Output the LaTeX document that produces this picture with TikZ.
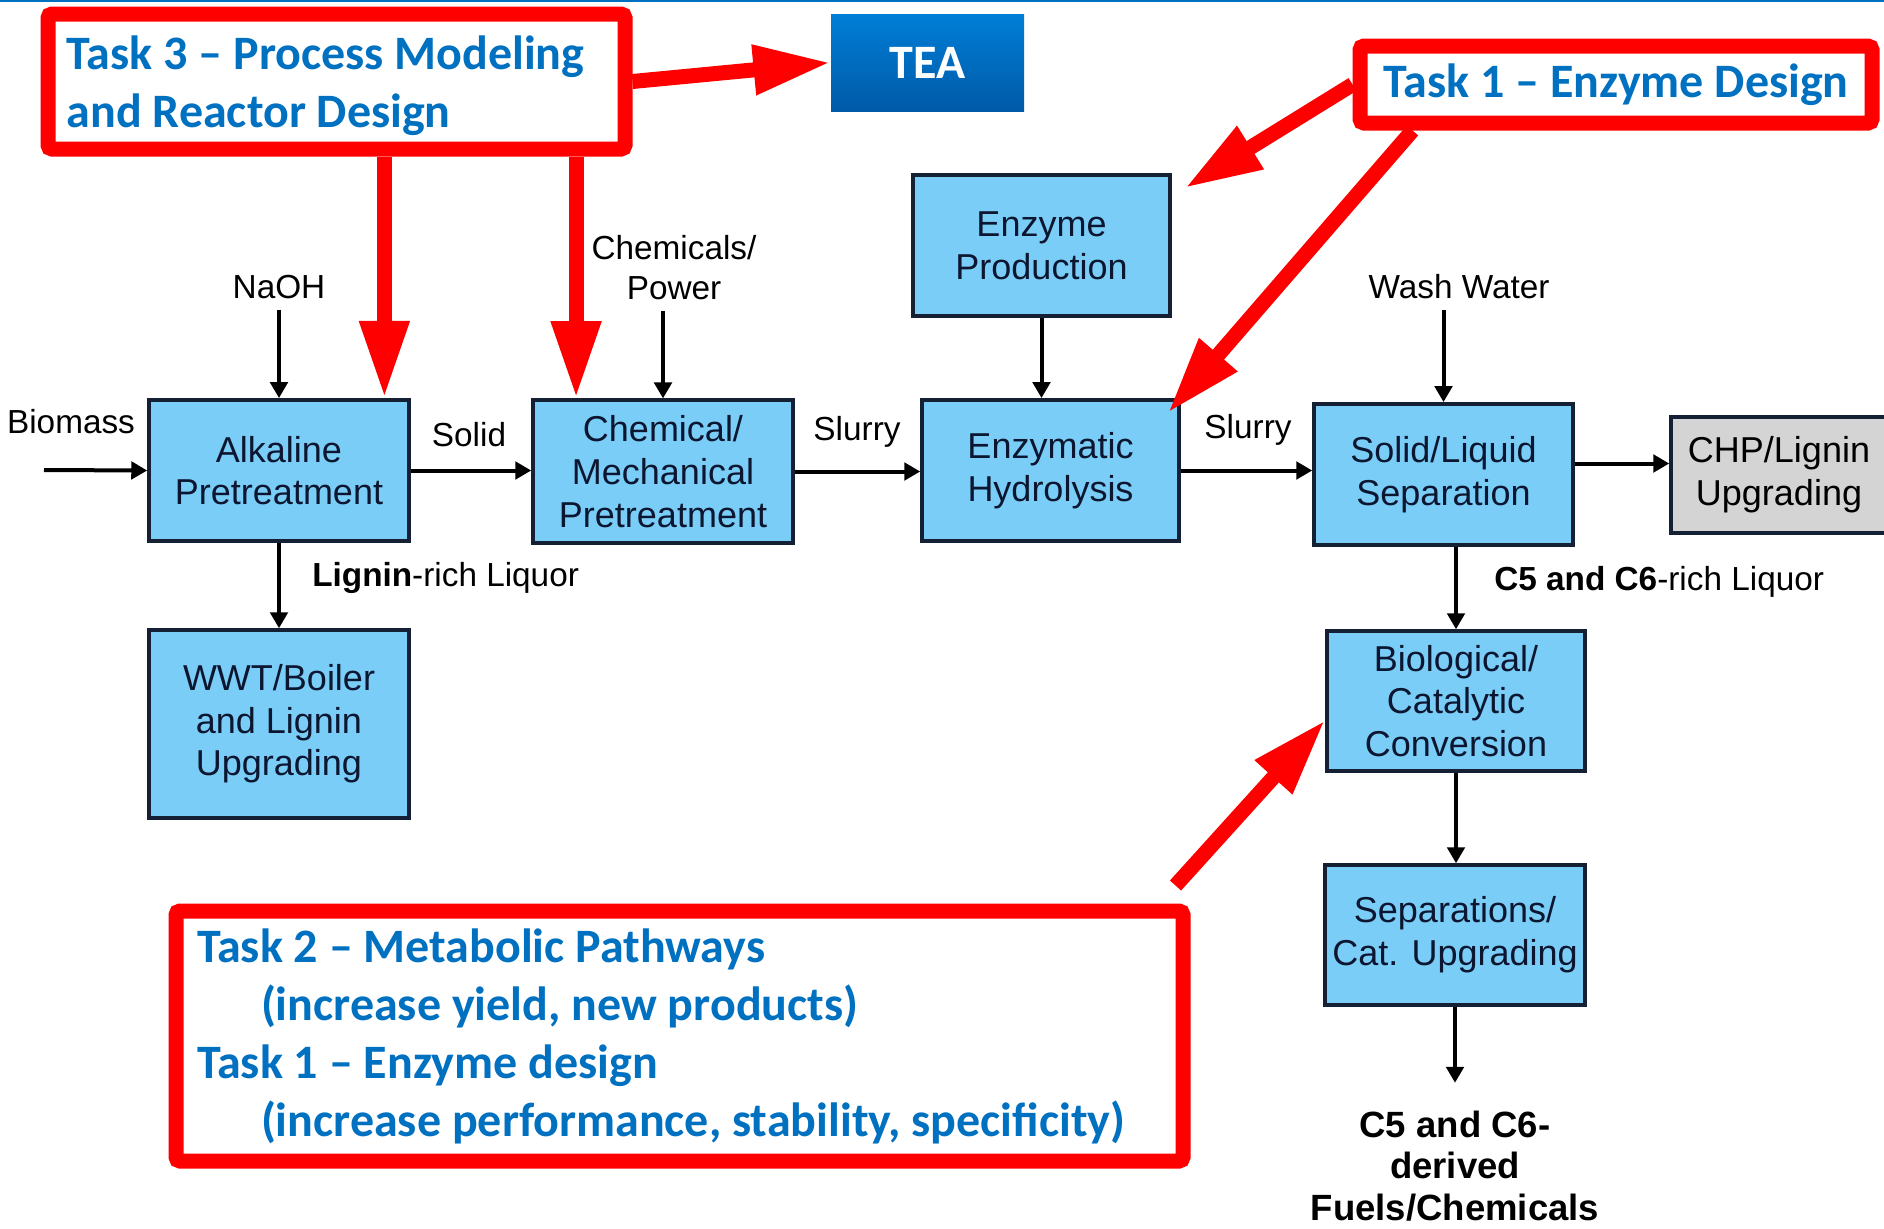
\documentclass[tikz,border=0pt]{standalone}
\usepackage{fontspec}
\setmainfont{Liberation Sans}
\newfontfamily\taskfont{Carlito}
\usepackage{tikz}
\usetikzlibrary{arrows.meta,calc}
\definecolor{boxblue}{RGB}{122,205,246}
\definecolor{boxline}{RGB}{22,32,52}
\definecolor{boxtext}{RGB}{12,22,48}
\definecolor{taskblue}{RGB}{0,112,192}
\definecolor{taskred}{RGB}{255,0,0}
\definecolor{chpgrey}{RGB}{212,212,212}

\begin{document}
\begin{tikzpicture}[x=0.75pt,y=0.75pt,yscale=-1,xscale=1,
  procbox/.style={draw=boxline,line width=2.6pt,fill=boxblue,text=boxtext,align=center,inner sep=0pt,
    minimum width=195pt,minimum height=106pt,font=\fontsize{27}{32}\selectfont},
  feedlabel/.style={font=\fontsize{25}{30}\selectfont,align=center,inner sep=8pt},
  flowarrow/.style={line width=3pt,-{Triangle[length=12pt,width=13pt]}},
  taskbox/.style={draw=taskred,line width=11.25pt,rounded corners=3pt,fill=white,text=taskblue,align=flush left,
    inner ysep=0pt,font=\taskfont\bfseries\fontsize{36}{43.5}\selectfont},
  taskarrow/.style={draw=taskred,line width=11.25pt,-{Triangle[length=58pt,width=35pt]}}]
%uncomment if require: \path (0,1228); %set diagram left start at 0, and has height of 1228
\path[use as bounding box,fill=white] (0,0) rectangle (1884,1228);
%Straight Lines top rule
\draw[taskblue,line width=1.5pt] (0,1) -- (1884,1);

%Shape: Rectangle process units
\node[procbox] (alk) at (279,470.5) {Alkaline\\Pretreatment};
\node[procbox,minimum height=141pt] (wwt) at (279,724) {WWT/Boiler\\and Lignin\\Upgrading};
\node[procbox,minimum height=107pt] (chem) at (663,471.5) {Chemical/\\Mechanical\\Pretreatment};
\node[procbox,minimum width=192.75pt] (enzp) at (1041.5,245.5) {Enzyme\\Production};
\node[procbox,minimum width=192.75pt] (hyd) at (1050.5,470.5) {Enzymatic\\Hydrolysis};
\node[procbox,minimum width=194.25pt] (sep) at (1443.5,474.5) {Solid/Liquid\\Separation};
\node[procbox,fill=chpgrey,text=black,minimum width=162pt,minimum height=87pt] (chp) at (1779,475) {CHP/Lignin\\Upgrading};
\node[procbox,minimum width=193.5pt,minimum height=105pt] (bio) at (1456,701) {Biological/\\Catalytic\\Conversion};
\node[procbox,minimum height=105pt] (upg) at (1455,935) {Separations/\\Cat. Upgrading};

% Text Node
\node[feedlabel] (biomass) at (71,422) {Biomass};
% Text Node
\node[feedlabel] (naoh) at (279,287) {NaOH};
% Text Node
\node[feedlabel] (solid) at (469,435) {Solid};
% Text Node
\node[feedlabel] (chempow) at (674,268) {Chemicals/\\Power};
% Text Node
\node[feedlabel] (slurrya) at (857,432) {Slurry};
% Text Node
\node[feedlabel] (slurryb) at (1248,430) {Slurry};
% Text Node
\node[feedlabel] (wash) at (1459,287) {Wash Water};
% Text Node
\node[feedlabel,anchor=west,inner sep=0pt] (lignin) at (312,578) {\textbf{Lignin}-rich Liquor};
% Text Node
\node[feedlabel,anchor=west,inner sep=0pt] (sugars) at (1494,582) {\textbf{C5 and C6}-rich Liquor};
% Text Node
\node[feedlabel,inner sep=0pt,font=\bfseries\fontsize{27.4}{31}\selectfont] (fuels) at (1455,1166) {C5 and C6-\\derived\\Fuels/Chemicals};

%Straight Lines process flows
\coordinate (biomassin) at (44,470);
\draw[flowarrow] (biomassin) -- (alk.west);
\draw[flowarrow] (naoh.south) -- (alk.north);
\draw[flowarrow] (alk.east) -- (alk.east -| chem.west);
\draw[flowarrow] (alk.south) -- (wwt.north);
\draw[flowarrow] (chempow.south -| chem.north) -- (chem.north);
\draw[flowarrow] (chem.east) -- (chem.east -| hyd.west);
\draw[flowarrow] (enzp.south) -- (enzp.south |- hyd.north);
\draw[flowarrow] (hyd.east) -- (hyd.east -| sep.west);
\draw[flowarrow] (wash.south -| sep.north) -- (sep.north);
\coordinate (sepout) at ($(sep.east)+(0,-11)$);
\draw[flowarrow] (sepout) -- (sepout -| chp.west);
\draw[flowarrow] (sep.south -| bio.north) -- (bio.north);
\draw[flowarrow] (bio.south) -- (bio.south |- upg.north);
\draw[flowarrow,shorten >=21pt] (upg.south) -- (fuels.north);

%Shape: Rectangle task call-outs
\node[taskbox,minimum width=432.75pt,minimum height=101.25pt,inner xsep=14pt,text width=404.75pt] (task3) at (336.5,81.5)
  {\rule{0pt}{32pt}Task 3 – Process Modeling\\and Reactor Design};
\node[taskbox,align=center,minimum width=384pt,minimum height=57.75pt] (task1) at (1616,84.5)
  {Task 1 – Enzyme Design};
\node[taskbox,minimum width=755.25pt,minimum height=187.5pt,inner xsep=15.75pt,text width=723.75pt] (task2) at (679.5,1036)
  {Task 2 – Metabolic Pathways\\\hspace*{48pt}(increase yield, new products)\\Task 1 – Enzyme design\\\hspace*{48pt}(increase performance, stability, specificity)};
\node[top color={rgb,255:red,0;green,126;blue,214},bottom color={rgb,255:red,0;green,90;blue,168},text=white,
  minimum width=144.75pt,minimum height=72.75pt,font=\taskfont\bfseries\fontsize{36}{40}\selectfont] (tea) at (927.5,62.5) {TEA};

%Straight Lines task pointers
\coordinate (alkin) at ($(alk.north west)!0.9!(alk.north east)$);
\coordinate (chemin) at ($(chem.north west)!0.17!(chem.north east)$);
\coordinate (enzpin) at ($(enzp.north east)+(13,15)$);
\coordinate (hydin) at ($(hyd.north east)+(-13,15)$);
\coordinate (task1out) at ($(task1.south west)+(60,0)$);
\coordinate (task2out) at ($(task2.north east)+(-15,-18)$);
\coordinate (bioin) at ($(bio.west)+(0,19)$);
\draw[taskarrow] (task3.east) -- (tea.west);
\draw[taskarrow] (task3.south -| alkin) -- (alkin);
\draw[taskarrow] (task3.south -| chemin) -- (chemin);
\draw[taskarrow] (task1.west) -- (enzpin);
\draw[taskarrow] (task1out) -- (hydin);
\draw[taskarrow] (task2out) -- (bioin);

\end{tikzpicture}
\end{document}
